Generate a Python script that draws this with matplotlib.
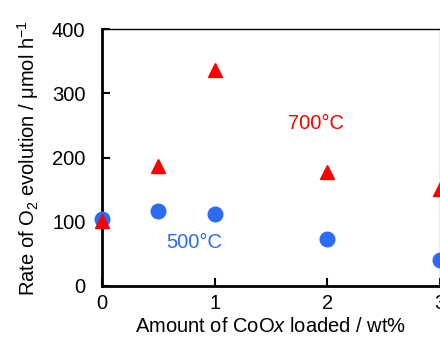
import matplotlib.pyplot as plt

plt.rcParams['font.family'] = ['Liberation Sans', 'DejaVu Sans']
plt.rcParams['mathtext.fontset'] = 'custom'
plt.rcParams['mathtext.rm'] = 'Liberation Sans'
plt.rcParams['mathtext.it'] = 'Liberation Sans:italic'

# data
loading = [0, 0.5, 1, 2, 3]
rate_700 = [101, 187, 337, 177, 151]
rate_500 = [105, 117, 112, 73, 40]

red = '#ff0000'
blue = '#2b6cf2'
fs = 14.5

fig = plt.figure(figsize=(4.4, 3.38), dpi=100)
ax = fig.add_axes([0.232, 0.154, 0.767, 0.760])

ax.plot(loading, rate_500, linestyle='none', marker='o', markersize=10.5,
        color=blue, clip_on=False, zorder=3)
ax.plot(loading, rate_700, linestyle='none', marker='^', markersize=10.5,
        color=red, clip_on=False, zorder=4)

ax.text(1.9, 253, '700°C', color=red, fontsize=fs, ha='center', va='center')
ax.text(0.82, 68, '500°C', color=blue, fontsize=fs, ha='center', va='center')

ax.set_xlim(0, 3)
ax.set_ylim(0, 400)
ax.set_xticks([0, 1, 2, 3])
ax.set_yticks([0, 100, 200, 300, 400])
ax.tick_params(direction='in', length=6, width=1.5, labelsize=fs)
ax.tick_params(axis='y', pad=12)
ax.tick_params(axis='x', pad=6)

for s in ['left', 'bottom']:
    ax.spines[s].set_linewidth(2)
for s in ['top', 'right']:
    ax.spines[s].set_linewidth(1)
ax.spines['right'].set_color('#999999')

ax.set_xlabel('Amount of CoO$\\it{x}$ loaded / wt%', fontsize=fs, labelpad=3)
ax.set_ylabel('Rate of O$_2$ evolution / μmol h$^{-1}$', fontsize=fs, labelpad=8)

plt.savefig('out.png')
